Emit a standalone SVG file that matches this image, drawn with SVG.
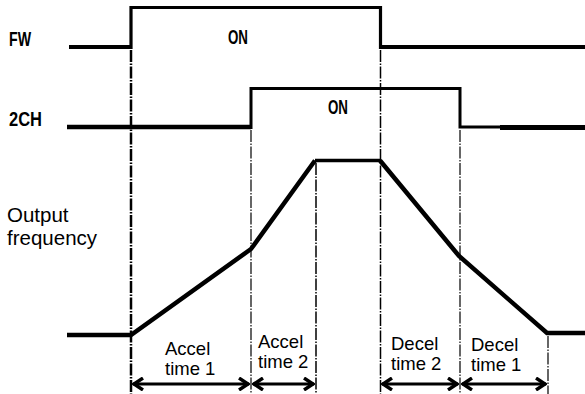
<svg xmlns="http://www.w3.org/2000/svg" width="585" height="394" viewBox="0 0 585 394">
<style>
.sig{fill:none;stroke:#000;stroke-linejoin:miter;stroke-linecap:butt}
.lbl{font-family:"Liberation Sans",Arial,sans-serif;fill:#000}
.cond{font-family:"Liberation Sans",Arial,sans-serif;font-size:20px;font-weight:bold;fill:#000}
.dash{fill:none;stroke:#000;stroke-dasharray:12,1.5,1.5,1.5}
.arr{fill:none;stroke:#000;stroke-width:3}
</style>
<defs>
<marker id="ah" viewBox="0 0 12 14" refX="11" refY="7" markerWidth="12" markerHeight="14" markerUnits="userSpaceOnUse" orient="auto-start-reverse">
<polyline points="1,1 10,7 1,13" fill="none" stroke="#000" stroke-width="3.4"/>
</marker>
</defs>
<rect width="585" height="394" fill="#fff"/>

<g id="fw">
<path class="sig" stroke-width="4" d="M69,47 H131 M380.5,47 H585"/>
<path class="sig" stroke-width="3.2" d="M131,49 V7.5 H380.5 V49"/>
<text class="cond" x="9" y="46" textLength="22" lengthAdjust="spacingAndGlyphs">FW</text>
<text class="cond" x="228" y="44" textLength="20" lengthAdjust="spacingAndGlyphs">ON</text>
</g>

<g id="ch2">
<path class="sig" stroke-width="4.5" d="M67,127 H251"/>
<path class="sig" stroke-width="3" d="M251,129 V88.5 H460 V127 H501"/>
<path class="sig" stroke-width="5" d="M500,127.5 H585"/>
<text class="cond" x="9" y="126" textLength="33" lengthAdjust="spacingAndGlyphs">2CH</text>
<text class="cond" x="328" y="114" textLength="20" lengthAdjust="spacingAndGlyphs">ON</text>
</g>

<g id="freq">
<path class="sig" stroke-width="4.5" d="M67,335 H131 L251,249 L315,160.5"/>
<path class="sig" stroke-width="3.5" d="M315,160.5 H380"/>
<path class="sig" stroke-width="4.5" d="M380,160.5 L459,256 L547,333 H585"/>
<text class="lbl" font-size="20.5" x="7" y="222">Output</text>
<text class="lbl" font-size="20.5" x="7" y="245">frequency</text>
</g>

<g id="connectors">
<line class="dash" stroke-width="2.5" x1="131" y1="50" x2="131" y2="394"/>
<line class="dash" stroke-width="1.2" x1="251" y1="130" x2="251" y2="394"/>
<line class="dash" stroke-width="1.5" x1="316" y1="163" x2="316" y2="394"/>
<line class="dash" stroke-width="1.5" x1="380.5" y1="50" x2="380.5" y2="394"/>
<line class="dash" stroke-width="1.2" x1="460" y1="130" x2="460" y2="394"/>
<line class="dash" stroke-width="1.2" x1="548" y1="336" x2="548" y2="394"/>
<line class="arr" x1="133" y1="384" x2="249" y2="384" marker-start="url(#ah)" marker-end="url(#ah)"/>
<line class="arr" x1="253" y1="384" x2="314" y2="384" marker-start="url(#ah)" marker-end="url(#ah)"/>
<line class="arr" x1="382" y1="384" x2="458" y2="384" marker-start="url(#ah)" marker-end="url(#ah)"/>
<line class="arr" x1="462" y1="384" x2="546" y2="384" marker-start="url(#ah)" marker-end="url(#ah)"/>
</g>

<g id="lbl-accel1">
<text class="lbl" font-size="18.5" x="165" y="355">Accel</text>
<text class="lbl" font-size="18.5" x="165" y="375">time 1</text>
</g>
<g id="lbl-accel2">
<text class="lbl" font-size="18.5" x="258" y="348">Accel</text>
<text class="lbl" font-size="18.5" x="258" y="368">time 2</text>
</g>
<g id="lbl-decel2">
<text class="lbl" font-size="18.5" x="391" y="350">Decel</text>
<text class="lbl" font-size="18.5" x="391" y="370">time 2</text>
</g>
<g id="lbl-decel1">
<text class="lbl" font-size="18.5" x="471" y="351">Decel</text>
<text class="lbl" font-size="18.5" x="471" y="371">time 1</text>
</g>
</svg>
